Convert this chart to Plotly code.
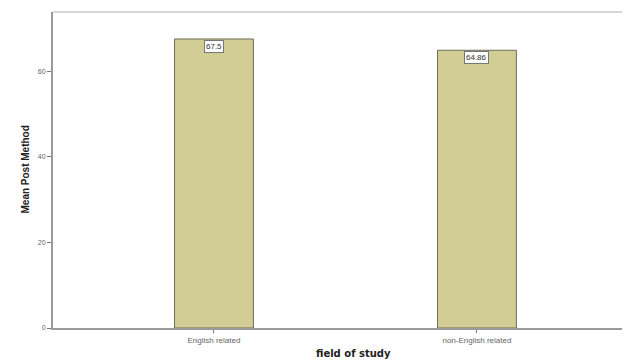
import plotly.graph_objects as go

categories = ["English related", "non-English related"]
means = [67.5, 64.86]
labels = ["67.5", "64.86"]
y_ticks = [0, 20, 40, 60]

bar_color = "#d1cd94"

fig = go.Figure()
fig.add_trace(go.Bar(
    x=categories, y=means, width=0.30,
    marker=dict(color=bar_color, line=dict(color="#6e6e5a", width=1)),
    hoverinfo="skip",
))

for c, v, t in zip(categories, means, labels):
    fig.add_annotation(
        x=c, y=v, text=t, showarrow=False, yanchor="top", yshift=-1,
        font=dict(family="Liberation Sans, Arial", size=8, color="#333"),
        bgcolor="white", bordercolor="#777", borderwidth=1, borderpad=1,
    )

fig.update_layout(
    width=622, height=352,
    margin=dict(l=45, r=0, t=4, b=32, autoexpand=False),
    paper_bgcolor="white", plot_bgcolor="white",
    showlegend=False,
    font=dict(family="Liberation Sans, Arial", color="#555"),
    xaxis=dict(
        type="category", range=[-0.612, 1.582], automargin=False,
        showline=True, linecolor="#9a9a9a", linewidth=2, mirror=False,
        ticks="outside", ticklen=3, tickcolor="#777",
        tickfont=dict(size=8, color="#666"),
        showgrid=False, zeroline=False,
    ),
    yaxis=dict(
        range=[0, 73.8], tickvals=y_ticks, automargin=False,
        showline=True, linecolor="#9a9a9a", linewidth=2,
        ticks="outside", ticklen=4, tickcolor="#777",
        tickfont=dict(size=7, color="#666"),
        showgrid=False, zeroline=False,
    ),
)
fig.add_annotation(xref="paper", yref="paper", x=0.52, y=0, yshift=-25,
                   yanchor="middle", showarrow=False,
                   text="<b>field of study</b>",
                   font=dict(family="DejaVu Sans", size=10, color="#222"))
fig.add_annotation(xref="paper", yref="paper", x=0, xshift=-36, y=0.5,
                   textangle=-90, showarrow=False,
                   text="<b>Mean Post Method</b>",
                   font=dict(family="Liberation Sans, Arial", size=10, color="#222"))
fig.add_shape(type="line", xref="paper", yref="paper", x0=0, x1=1, y0=1, y1=1,
              line=dict(color="#c8c8c8", width=1.5))

fig.write_html("out.html")
